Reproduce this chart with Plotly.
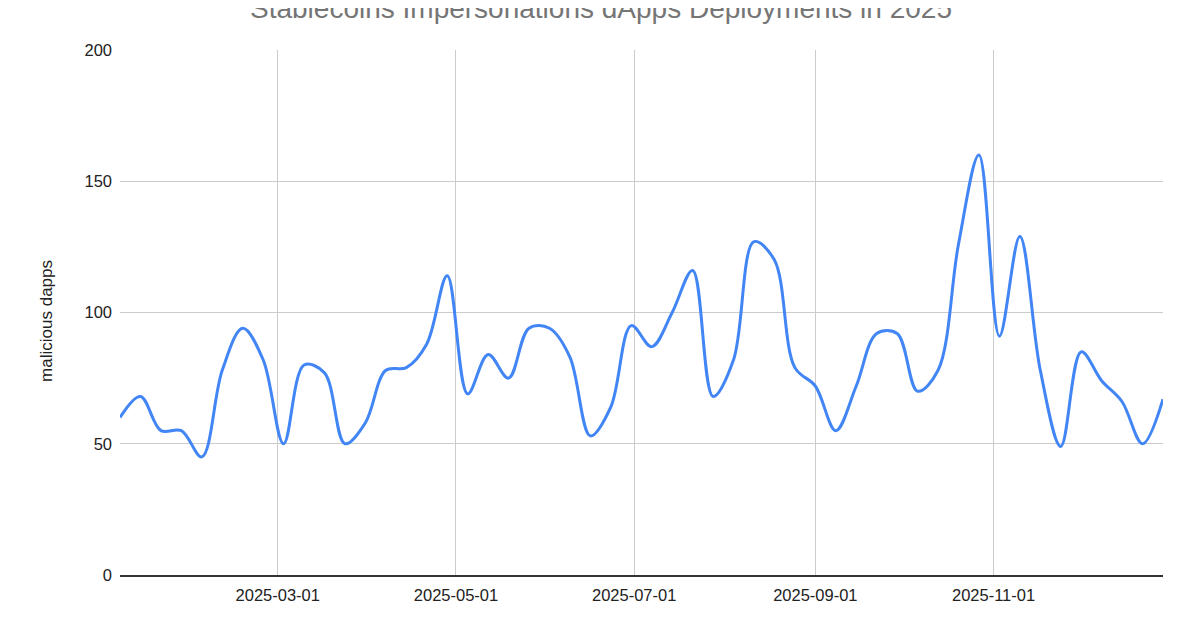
import pandas as pd
import plotly.graph_objects as go

# weekly counts, first week starting 2025-01-06
week_start = pd.date_range("2025-01-06", periods=52, freq="7D")
malicious_dapps = [
    60, 68, 55, 55, 45, 78, 94, 82, 50, 80,
    77, 50, 58, 78, 79, 88, 114, 69, 84, 75,
    94, 94, 83, 53, 64, 95, 87, 100, 116, 68,
    82, 127, 120, 79, 72, 55, 72, 92, 92, 70,
    78, 126, 160, 91, 129, 78, 49, 85, 74, 66,
    50, 67,
]

y_ticks = [0, 50, 100, 150, 200]
x_ticks = ["2025-03-01", "2025-05-01", "2025-07-01", "2025-09-01", "2025-11-01"]

fig = go.Figure(go.Scatter(
    x=week_start,
    y=malicious_dapps,
    mode="lines",
    line=dict(color="#4285f4", width=3, shape="spline", smoothing=1.0),
    hoverinfo="x+y",
))

# title is centred on the page and runs partly above its top edge
fig.add_annotation(
    text="Stablecoins Impersonations dApps Deployments in 2025",
    xref="paper", yref="paper", x=0.461, y=1,
    xanchor="center", yanchor="middle", yshift=42,
    showarrow=False,
    font=dict(family="Liberation Sans, Arial", size=28, color="#757575"),
)

# y axis title, placed by hand like the original
fig.add_annotation(
    text="malicious dapps",
    xref="paper", yref="paper", x=0, y=0.484,
    xanchor="center", yanchor="middle", xshift=-73,
    textangle=-90, showarrow=False,
    font=dict(family="Liberation Sans, Arial", size=17, color="#222222"),
)

# the page body adds an 8px margin, so margins are trimmed to match
fig.update_layout(
    width=1200,
    height=630,
    margin=dict(l=112, r=45, t=42, b=63),
    plot_bgcolor="white",
    paper_bgcolor="white",
    showlegend=False,
    font=dict(family="Liberation Sans, Arial", size=16.5, color="#222222"),
    xaxis=dict(
        range=[week_start[0], week_start[-1]],
        tickvals=x_ticks,
        tickformat="%Y-%m-%d",
        showgrid=True,
        gridcolor="#cccccc",
        gridwidth=1,
        showline=True,
        linecolor="#333333",
        linewidth=2,
        ticks="",
        ticklabelstandoff=4,
        zeroline=False,
    ),
    yaxis=dict(
        range=[0, 200],
        tickvals=y_ticks,
        showgrid=True,
        gridcolor="#cccccc",
        gridwidth=1,
        zeroline=False,
        showline=False,
        ticks="",
        ticklabelstandoff=7,
    ),
)

fig.write_html("out.html")
